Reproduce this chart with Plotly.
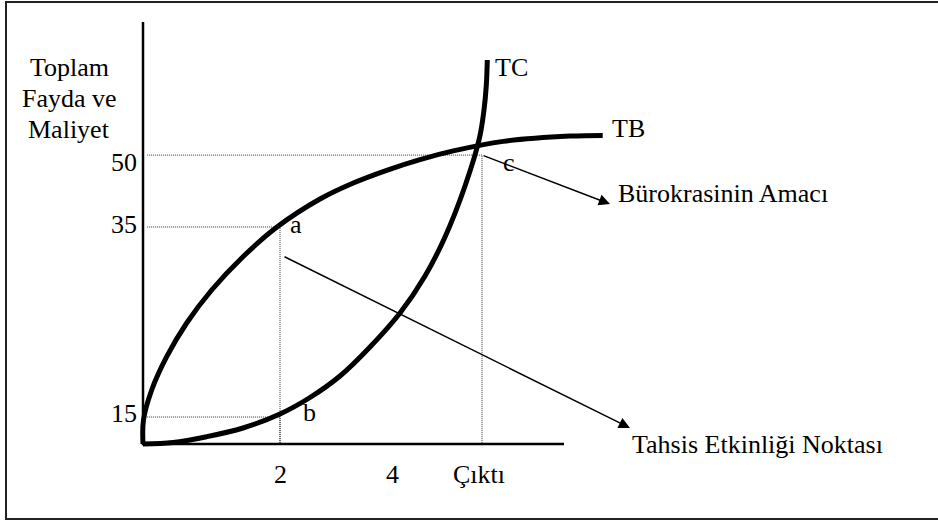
import plotly.graph_objects as go

# schematic units: x = output (tick "2" at 2), y = benefit/cost level
tb_x = [0, 0.007, 0.127, 0.346, 0.638, 1.003, 1.460, 1.956, 2.584, 3.070, 3.558, 4.044,
        4.530, 5.260, 6.234, 6.711]
tb_y = [0, 3.87, 8.71, 14.08, 19.52, 24.84, 30.21, 35.0, 39.52, 42.10, 44.15, 45.87,
        47.27, 48.81, 49.66, 49.77]

tc_x = [0, 0.438, 0.930, 1.460, 2.0, 2.438, 2.876, 3.314, 3.752, 4.117, 4.409, 4.701,
        4.912, 4.978, 5.012, 5.026]
tc_y = [0, 0.24, 1.18, 2.58, 4.84, 7.50, 10.97, 15.65, 21.13, 27.10, 33.39, 41.61,
        49.35, 53.87, 57.90, 61.94]

x_tick_vals = [2.0, 3.635, 4.905]
x_tick_text = ["2", "4", "Çıktı"]
y_tick_vals = [4.35, 35.0, 46.6]
y_tick_text = ["15", "35", "50"]

# guide (dotted) lines for points a, b, c
guide_x = [2.0, 2.0, 4.949]
guide_y = [35.0, 4.35, 46.6]

FONT = dict(family="Liberation Serif, Times New Roman, DejaVu Serif, serif", size=26, color="black")

fig = go.Figure()

# axes
fig.add_trace(go.Scatter(x=[0, 0, 6.146], y=[68.06, 0, 0], mode="lines",
                         line=dict(color="black", width=2.5), hoverinfo="skip"))

# dotted guides
for gx, gy in zip(guide_x, guide_y):
    fig.add_trace(go.Scatter(x=[0.06, gx, gx], y=[gy, gy, 0], mode="lines",
                             line=dict(color="#333", width=1, dash="1px,1px"), hoverinfo="skip"))

fig.add_trace(go.Scatter(x=tb_x, y=tb_y, mode="lines", name="TB",
                         line=dict(color="black", width=5, shape="spline", smoothing=1.0)))
fig.add_trace(go.Scatter(x=tc_x, y=tc_y, mode="lines", name="TC",
                         line=dict(color="black", width=5, shape="spline", smoothing=1.0)))

ann = []


def label(x, y, text, xanchor="left", yshift=0):
    ann.append(dict(x=x, y=y, text=text, showarrow=False, xanchor=xanchor, yanchor="middle",
                    yshift=yshift, font=FONT, borderpad=0, borderwidth=0))


for t, v in zip(x_tick_text, x_tick_vals):
    label(v, -4.84, t, xanchor="center")
for t, v, s in zip(y_tick_text, y_tick_vals, [4, 3, -7]):
    label(-0.09, v, t, xanchor="right", yshift=s)

label(-1.08, 60.65, "Toplam", xanchor="center")
label(-1.08, 55.65, "Fayda ve", xanchor="center")
label(-1.08, 50.65, "Maliyet", xanchor="center")

label(2.146, 35.48, "a")
label(2.336, 5.16, "b")
label(5.255, 45.48, "c")
label(5.139, 60.65, "TC")
label(6.847, 50.81, "TB")
label(6.934, 40.48, "Bürokrasinin Amacı")
label(7.139, 0.0, "Tahsis Etkinliği Noktası")

# arrows
for (x0, y0), (x1, y1) in [((4.949, 46.6), (6.818, 38.71)), ((2.044, 30.32), (7.109, 2.58))]:
    ann.append(dict(x=x1, y=y1, ax=x0, ay=y0, xref="x", yref="y", axref="x", ayref="y",
                    text="", showarrow=True, arrowhead=2, arrowsize=1.5, arrowwidth=1.5,
                    arrowcolor="black", standoff=0))

fig.update_layout(
    width=938, height=523,
    margin=dict(l=0, r=0, t=0, b=0),
    paper_bgcolor="white", plot_bgcolor="white",
    showlegend=False,
    xaxis=dict(visible=False, range=[-2.0876, 11.6058], fixedrange=True),
    yaxis=dict(visible=False, range=[-12.742, 71.613], fixedrange=True),
    annotations=ann,
    shapes=[dict(type="rect", xref="paper", yref="paper", x0=6 / 938, x1=1.01,
                 y0=1 - 519 / 523, y1=1 - 2 / 523, line=dict(color="#222", width=2))],
)

fig.write_html("out.html", config={"displayModeBar": False},
               post_script="document.body.style.margin = '0';")
